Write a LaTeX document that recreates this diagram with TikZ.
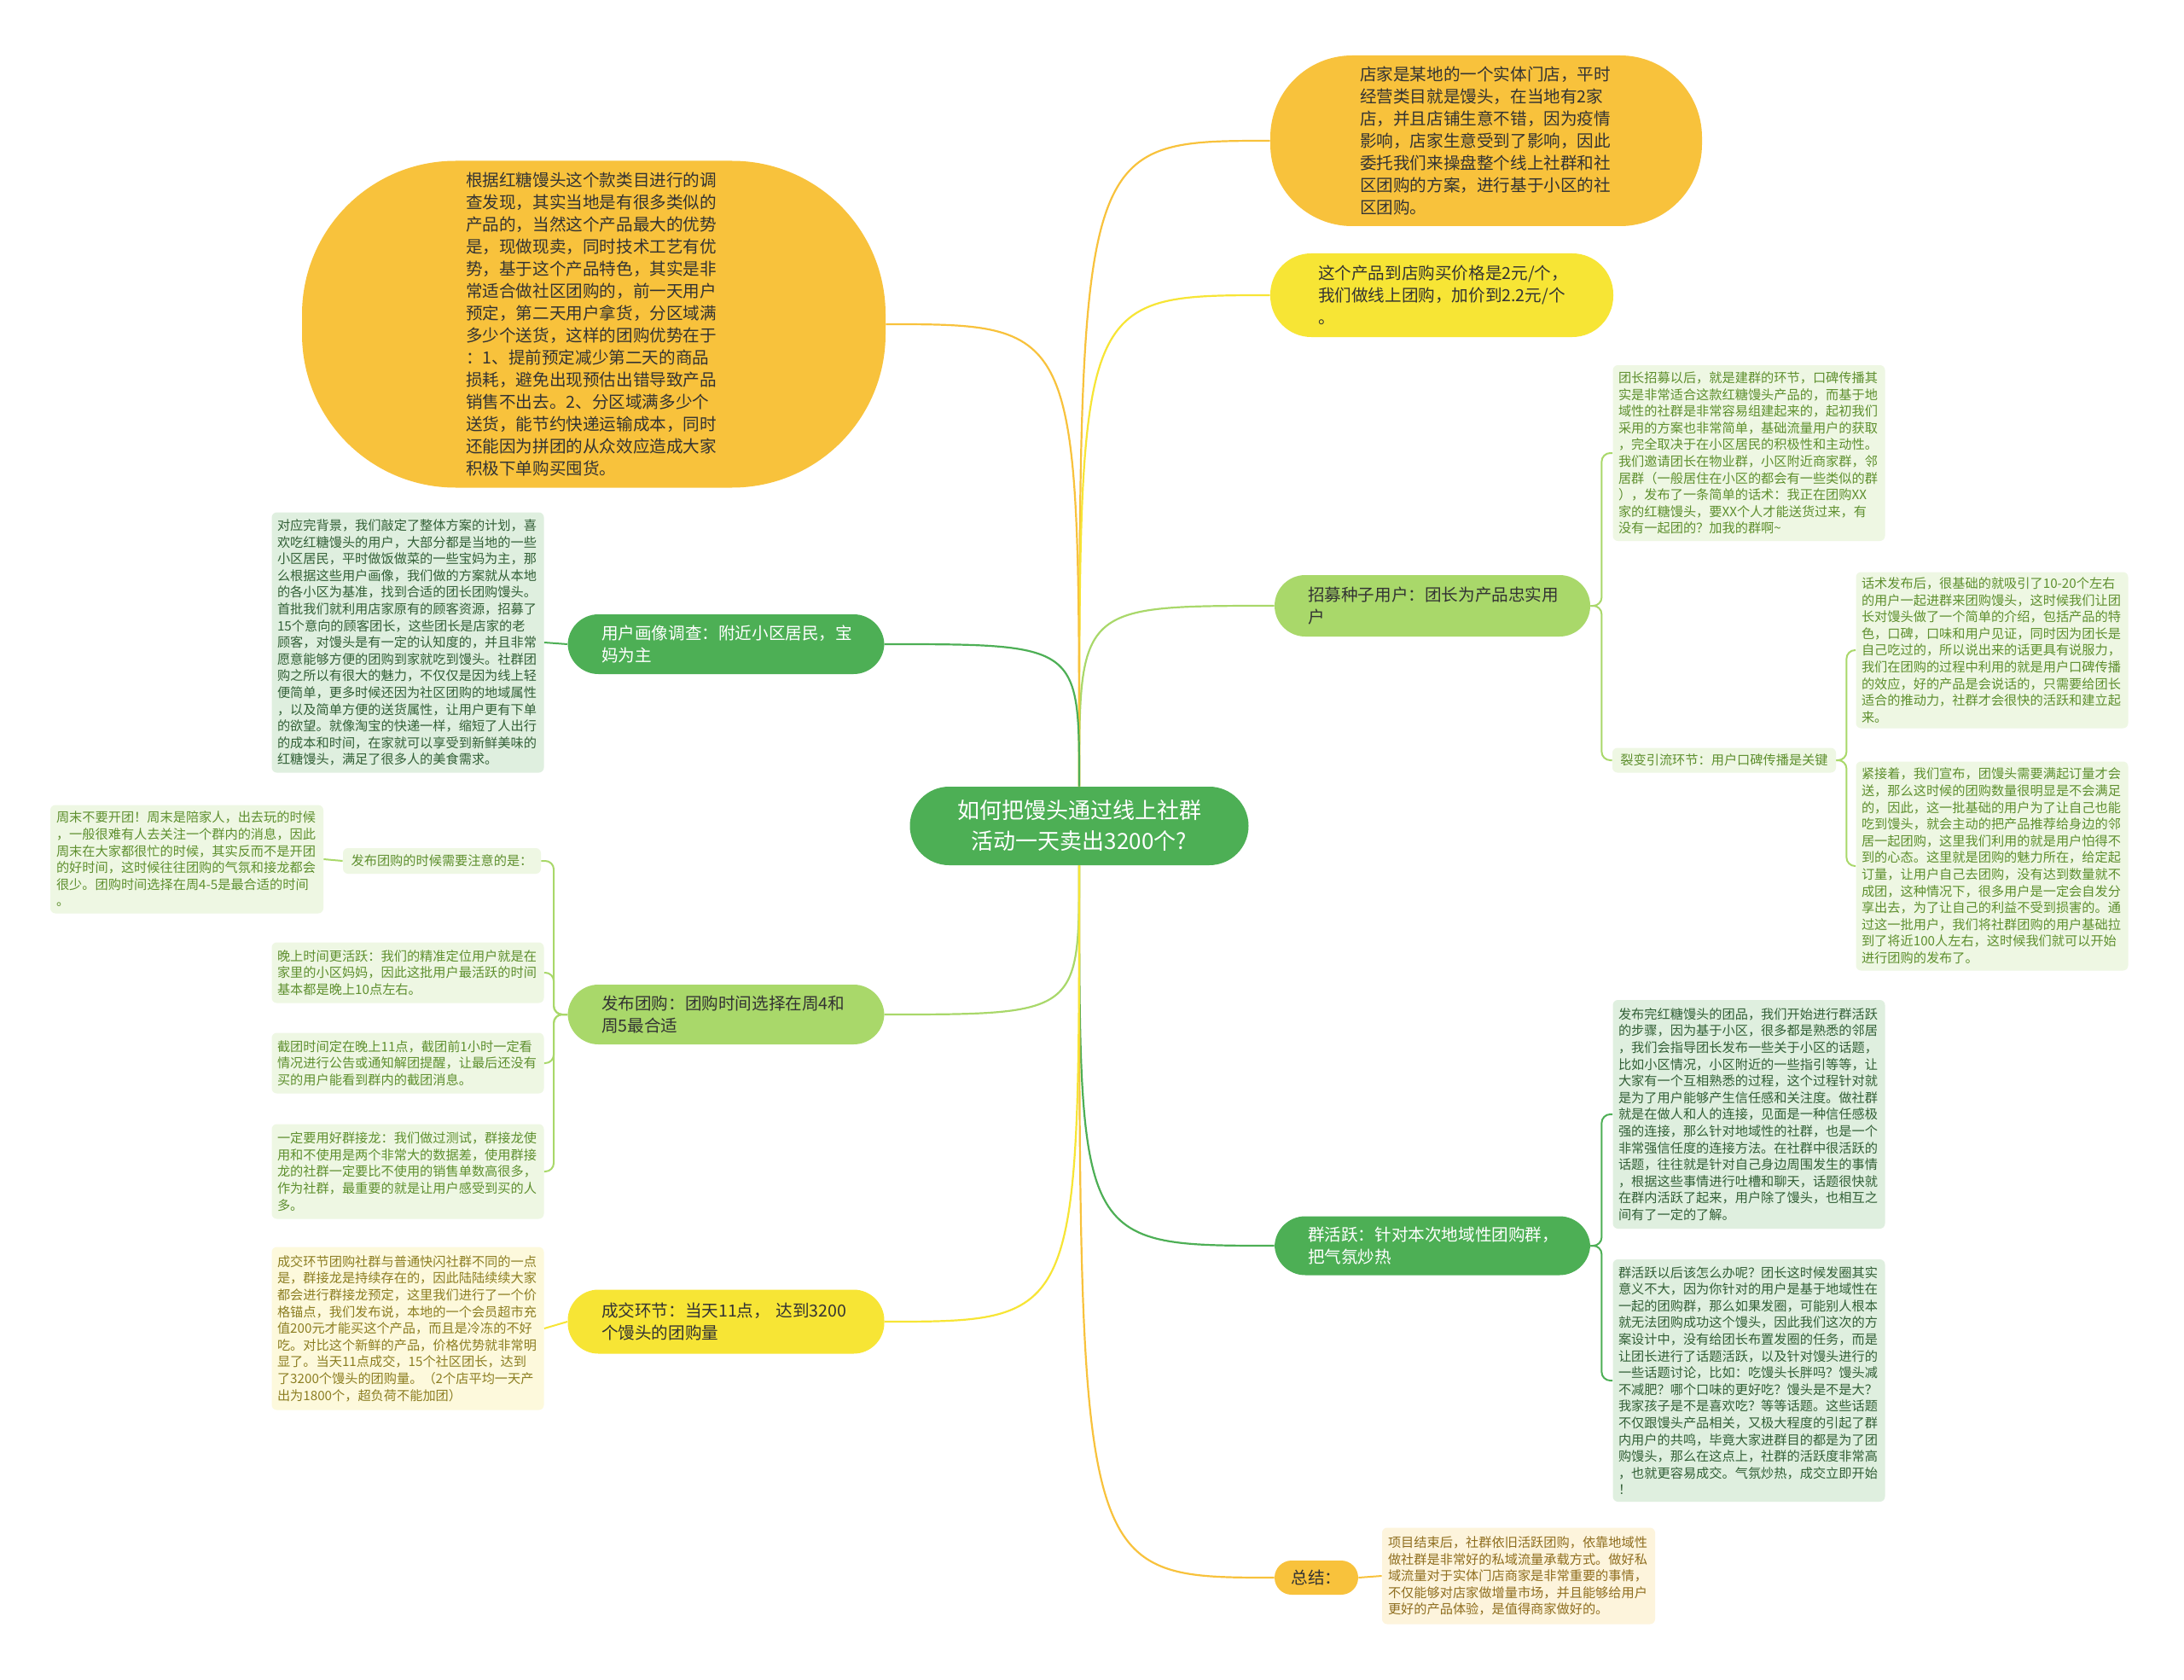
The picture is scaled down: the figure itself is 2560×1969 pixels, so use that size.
\documentclass[tikz,border=0pt]{standalone}
\usepackage{fontspec}
\setmainfont{Noto Sans CJK SC}
\definecolor{cgreen}{HTML}{4DAF55}
\definecolor{corange}{HTML}{F8C23C}
\definecolor{cyellow}{HTML}{F7E535}
\definecolor{clight}{HTML}{A9D86A}
\definecolor{bxlight}{HTML}{EEF7E3}
\definecolor{bxdark}{HTML}{DFEFDF}
\definecolor{bxyellow}{HTML}{FDF9DC}
\definecolor{bxorange}{HTML}{FDF4DC}
\definecolor{txlight}{HTML}{5E8F2E}
\definecolor{txdark}{HTML}{325F36}
\definecolor{txyellow}{HTML}{8C7E22}
\definecolor{txorange}{HTML}{8F6E1F}
\definecolor{txmain}{HTML}{333333}
\begin{document}
\begin{tikzpicture}[x=0.5pt,y=-0.5pt,
  base/.style={inner sep=0pt, align=left},
  bigf/.style={font=\fontsize{9.8}{13}\selectfont},
  smf/.style={font=\fontsize{7.6}{9.8}\selectfont},
  topic/.style={base, bigf, text=txmain, rounded corners=18pt, text width=146pt, minimum width=185pt, minimum height=35pt},
  sbox/.style={base, smf, rounded corners=3pt, text width=153pt, minimum width=159.5pt},
  conn/.style={line width=1.1pt, draw=#1},
  sub/.style={line width=1pt, draw=#1, rounded corners=5pt}
]
\path[use as bounding box, fill=white] (0,0) rectangle (2560,1969);

% center
\node[base, align=center, fill=cgreen, text=white, rounded corners=23pt, minimum width=198.5pt, minimum height=46pt,
  font=\fontsize{13}{18}\selectfont] (C) at (1265,968) {如何把馒头通过线上社群\\活动一天卖出3200个?};

% right branches
\node[topic, fill=corange, minimum width=253pt, minimum height=100pt, rounded corners=48pt, text width=148pt] (TR) at (1742,165) {店家是某地的一个实体门店，平时\\经营类目就是馒头，在当地有2家\\店，并且店铺生意不错，因为疫情\\影响，店家生意受到了影响，因此\\委托我们来操盘整个线上社群和社\\区团购的方案，进行基于小区的社\\区团购。};
\node[topic, fill=cyellow, minimum width=201pt, minimum height=49pt, rounded corners=24pt, text width=145pt] (P) at (1690,346) {这个产品到店购买价格是2元/个，\\我们做线上团购，加价到2.2元/个\\。};
\node[topic, fill=clight, minimum height=36pt] (Z) at (1679,710) {招募种子用户：团长为产品忠实用\\户};
\node[topic, fill=cgreen, text=white, minimum height=34.5pt] (G) at (1679,1460) {群活跃：针对本次地域性团购群，\\把气氛炒热};
\node[base, bigf, align=center, fill=corange, text=txmain, rounded corners=10pt, minimum width=49pt, minimum height=20pt] (S) at (1543,1849) {总结：};

% left branches
\node[topic, fill=corange, minimum width=342pt, minimum height=191.5pt, rounded corners=90pt, text width=150pt] (TL) at (696,380) {根据红糖馒头这个款类目进行的调\\查发现，其实当地是有很多类似的\\产品的，当然这个产品最大的优势\\是，现做现卖，同时技术工艺有优\\势，基于这个产品特色，其实是非\\常适合做社区团购的，前一天用户\\预定，第二天用户拿货，分区域满\\多少个送货，这样的团购优势在于\\：1、提前预定减少第二天的商品\\损耗，避免出现预估出错导致产品\\销售不出去。2、分区域满多少个\\送货，能节约快递运输成本，同时\\还能因为拼团的从众效应造成大家\\积极下单购买囤货。};
\node[topic, fill=cgreen, text=white, minimum width=185.5pt] (U) at (851,755) {用户画像调查：附近小区居民，宝\\妈为主};
\node[topic, fill=clight, minimum width=185.5pt] (F) at (851,1189) {发布团购：团购时间选择在周4和\\周5最合适};
\node[topic, fill=cyellow, minimum width=185.5pt, minimum height=37.5pt] (D) at (851,1549) {成交环节：当天11点， 达到3200\\个馒头的团购量};

% right children
\node[sbox, fill=bxlight, text=txlight, minimum height=103pt] (R1) at (2050,531) {团长招募以后，就是建群的环节，口碑传播其\\实是非常适合这款红糖馒头产品的，而基于地\\域性的社群是非常容易组建起来的，起初我们\\采用的方案也非常简单，基础流量用户的获取\\，完全取决于在小区居民的积极性和主动性。\\我们邀请团长在物业群，小区附近商家群，邻\\居群（一般居住在小区的都会有一些类似的群\\），发布了一条简单的话术：我正在团购XX\\家的红糖馒头，要XX个人才能送货过来，有\\没有一起团的？加我的群啊\textasciitilde};
\node[base, smf, align=center, fill=bxlight, text=txlight, rounded corners=3pt, minimum width=131pt, minimum height=14.5pt] (RL) at (2021,891) {裂变引流环节：用户口碑传播是关键};
\node[sbox, fill=bxlight, text=txlight, minimum height=91.5pt] (R2) at (2335,762) {话术发布后，很基础的就吸引了10-20个左右\\的用户一起进群来团购馒头，这时候我们让团\\长对馒头做了一个简单的介绍，包括产品的特\\色，口碑，口味和用户见证，同时因为团长是\\自己吃过的，所以说出来的话更具有说服力，\\我们在团购的过程中利用的就是用户口碑传播\\的效应，好的产品是会说话的，只需要给团长\\适合的推动力，社群才会很快的活跃和建立起\\来。};
\node[sbox, fill=bxlight, text=txlight, minimum height=122.5pt] (R3) at (2335,1015) {紧接着，我们宣布，团馒头需要满起订量才会\\送，那么这时候的团购数量很明显是不会满足\\的，因此，这一批基础的用户为了让自己也能\\吃到馒头，就会主动的把产品推荐给身边的邻\\居一起团购，这里我们利用的就是用户怕得不\\到的心态。这里就是团购的魅力所在，给定起\\订量，让用户自己去团购，没有达到数量就不\\成团，这种情况下，很多用户是一定会自发分\\享出去，为了让自己的利益不受到损害的。通\\过这一批用户，我们将社群团购的用户基础拉\\到了将近100人左右，这时候我们就可以开始\\进行团购的发布了。};
\node[sbox, fill=bxdark, text=txdark, minimum height=134pt] (G1) at (2050,1306) {发布完红糖馒头的团品，我们开始进行群活跃\\的步骤，因为基于小区，很多都是熟悉的邻居\\，我们会指导团长发布一些关于小区的话题，\\比如小区情况，小区附近的一些指引等等，让\\大家有一个互相熟悉的过程，这个过程针对就\\是为了用户能够产生信任感和关注度。做社群\\就是在做人和人的连接，见面是一种信任感极\\强的连接，那么针对地域性的社群，也是一个\\非常强信任度的连接方法。在社群中很活跃的\\话题，往往就是针对自己身边周围发生的事情\\，根据这些事情进行吐槽和聊天，话题很快就\\在群内活跃了起来，用户除了馒头，也相互之\\间有了一定的了解。};
\node[sbox, fill=bxdark, text=txdark, minimum height=142pt] (G2) at (2050,1618) {群活跃以后该怎么办呢？团长这时候发圈其实\\意义不大，因为你针对的用户是基于地域性在\\一起的团购群，那么如果发圈，可能别人根本\\就无法团购成功这个馒头，因此我们这次的方\\案设计中，没有给团长布置发圈的任务，而是\\让团长进行了话题活跃，以及针对馒头进行的\\一些话题讨论，比如：吃馒头长胖吗？馒头减\\不减肥？哪个口味的更好吃？馒头是不是大？\\我家孩子是不是喜欢吃？等等话题。这些话题\\不仅跟馒头产品相关，又极大程度的引起了群\\内用户的共鸣，毕竟大家进群目的都是为了团\\购馒头，那么在这点上，社群的活跃度非常高\\，也就更容易成交。气氛炒热，成交立即开始\\！};
\node[sbox, fill=bxorange, text=txorange, minimum width=160pt, minimum height=56.5pt] (SB) at (1780,1847) {项目结束后，社群依旧活跃团购，依靠地域性\\做社群是非常好的私域流量承载方式。做好私\\域流量对于实体门店商家是非常重要的事情，\\不仅能够对店家做增量市场，并且能够给用户\\更好的产品体验，是值得商家做好的。};

% left children
\node[sbox, fill=bxdark, text=txdark, minimum height=152.5pt] (L1) at (478,753) {对应完背景，我们敲定了整体方案的计划，喜\\欢吃红糖馒头的用户，大部分都是当地的一些\\小区居民，平时做饭做菜的一些宝妈为主，那\\么根据这些用户画像，我们做的方案就从本地\\的各小区为基准，找到合适的团长团购馒头。\\首批我们就利用店家原有的顾客资源，招募了\\15个意向的顾客团长，这些团长是店家的老\\顾客，对馒头是有一定的认知度的，并且非常\\愿意能够方便的团购到家就吃到馒头。社群团\\购之所以有很大的魅力，不仅仅是因为线上轻\\便简单，更多时候还因为社区团购的地域属性\\，以及简单方便的送货属性，让用户更有下单\\的欲望。就像淘宝的快递一样，缩短了人出行\\的成本和时间，在家就可以享受到新鲜美味的\\红糖馒头，满足了很多人的美食需求。};
\node[base, smf, align=center, fill=bxlight, text=txlight, rounded corners=3pt, minimum width=116pt, minimum height=15pt] (LL) at (518,1009) {发布团购的时候需要注意的是：};
\node[sbox, fill=bxlight, text=txlight, minimum width=160pt, minimum height=63.5pt] (L0) at (219,1007) {周末不要开团！周末是陪家人，出去玩的时候\\，一般很难有人去关注一个群内的消息，因此\\周末在大家都很忙的时候，其实反而不是开团\\的好时间，这时候往往团购的气氛和接龙都会\\很少。团购时间选择在周4-5是最合适的时间\\。};
\node[sbox, fill=bxlight, text=txlight, minimum height=35.5pt] (L2) at (478,1140) {晚上时间更活跃：我们的精准定位用户就是在\\家里的小区妈妈，因此这批用户最活跃的时间\\基本都是晚上10点左右。};
\node[sbox, fill=bxlight, text=txlight, minimum height=35.5pt] (L3) at (478,1246) {截团时间定在晚上11点，截团前1小时一定看\\情况进行公告或通知解团提醒，让最后还没有\\买的用户能看到群内的截团消息。};
\node[sbox, fill=bxlight, text=txlight, minimum height=55.5pt] (L4) at (478,1373) {一定要用好群接龙：我们做过测试，群接龙使\\用和不使用是两个非常大的数据差，使用群接\\龙的社群一定要比不使用的销售单数高很多，\\作为社群，最重要的就是让用户感受到买的人\\多。};
\node[sbox, fill=bxyellow, text=txyellow, minimum height=95.5pt] (L5) at (478,1557) {成交环节团购社群与普通快闪社群不同的一点\\是，群接龙是持续存在的，因此陆陆续续大家\\都会进行群接龙预定，这里我们进行了一个价\\格锚点，我们发布说，本地的一个会员超市充\\值200元才能买这个产品，而且是冷冻的不好\\吃。对比这个新鲜的产品，价格优势就非常明\\显了。当天11点成交，15个社区团长，达到\\了3200个馒头的团购量。（2个店平均一天产\\出为1800个，超负荷不能加团）};

% main connectors
\draw[conn=corange] (C.north) .. controls (C.north |- TR.west) .. (TR.west);
\draw[conn=cyellow] (C.north) .. controls (C.north |- P.west) .. (P.west);
\draw[conn=clight] (C.north) .. controls (C.north |- Z.west) .. (Z.west);
\draw[conn=corange] (C.north) .. controls (C.north |- TL.east) .. (TL.east);
\draw[conn=cgreen] (C.north) .. controls (C.north |- U.east) .. (U.east);
\draw[conn=cgreen] (C.south) .. controls (C.south |- G.west) .. (G.west);
\draw[conn=corange] (C.south) .. controls (C.south |- S.west) .. (S.west);
\draw[conn=clight] (C.south) .. controls (C.south |- F.east) .. (F.east);
\draw[conn=cyellow] (C.south) .. controls (C.south |- D.east) .. (D.east);

% sub connectors
\draw[sub=clight] (Z.east) -- ++(13,0) |- (R1.west);
\draw[sub=clight] (Z.east) -- ++(13,0) |- (RL.west);
\draw[sub=clight] (RL.east) -- ++(12,0) |- (R2.west);
\draw[sub=clight] (RL.east) -- ++(12,0) |- (R3.west);
\draw[sub=cgreen] (G.east) -- ++(13,0) |- (G1.west);
\draw[sub=cgreen] (G.east) -- ++(13,0) |- (G2.west);
\draw[sub=corange] (S.east) -- (SB.west);
\draw[sub=cgreen] (U.west) -- (L1.east);
\draw[sub=clight] (F.west) -- ++(-16,0) |- (LL.east);
\draw[sub=clight] (F.west) -- ++(-16,0) |- (L2.east);
\draw[sub=clight] (F.west) -- ++(-16,0) |- (L3.east);
\draw[sub=clight] (F.west) -- ++(-16,0) |- (L4.east);
\draw[sub=clight] (LL.west) -- (L0.east);
\draw[sub=cyellow] (D.west) -- (L5.east);
\end{tikzpicture}
\end{document}
